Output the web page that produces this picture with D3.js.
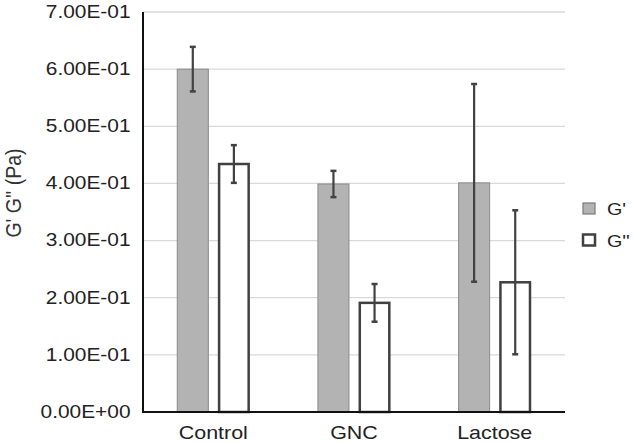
<!DOCTYPE html>
<html><head><meta charset="utf-8">
<script src="https://cdn.jsdelivr.net/npm/d3@7"></script>
<style>body{margin:0;background:#fff}svg{display:block}text{font-family:"Liberation Sans",Arial,sans-serif}</style>
</head><body>
<svg id="c" width="633" height="443"></svg>
<script>
const categories = ["Control", "GNC", "Lactose"];
const series = ["G'", "G''"];
const gPrime = [0.600, 0.399, 0.401];
const gPrimeErr = [0.039, 0.023, 0.173];
const gDouble = [0.434, 0.191, 0.227];
const gDoubleErr = [0.033, 0.033, 0.126];
const yTicks = [0, 0.1, 0.2, 0.3, 0.4, 0.5, 0.6, 0.7];

(function () {
const svg = d3.select("#c");
const pL = 143, pR = 565, pT = 12, pB = 412;
const SX = 1.16;
const x = d3.scaleBand().domain(categories).range([pL, pR]).paddingInner(0.48).paddingOuter(0.24);
const xs = d3.scaleBand().domain(series).range([0, x.bandwidth()]).paddingInner(0.22);
const y = d3.scaleLinear().domain([0, 0.7]).range([pB, pT]);

// gridlines
svg.append("g").selectAll("line").data(yTicks.filter(d => d > 0)).join("line")
  .attr("x1", pL).attr("x2", pR).attr("y1", d => y(d)).attr("y2", d => y(d))
  .attr("stroke", "#d9d9d9").attr("stroke-width", 1.3);

// y axis
const yAxis = svg.append("g").attr("transform", `translate(${pL},0)`)
  .call(d3.axisLeft(y).tickValues(yTicks).tickSize(0).tickPadding(13)
    .tickFormat(d => d === 0 ? "0.00E+00" : d3.format(".2f")(d * 10) + "E-01"));
yAxis.select(".domain").remove();
yAxis.selectAll("text").attr("font-size", 18).attr("fill", "#222")
  .attr("font-family", '"Liberation Sans",Arial,sans-serif')
  .attr("x", 0).attr("dy", "0.3em").attr("transform", `translate(-12.5,0) scale(${SX},1)`);

const data = [];
categories.forEach((c, i) => {
  data.push({c, s: "G'", v: gPrime[i], e: gPrimeErr[i]});
  data.push({c, s: "G''", v: gDouble[i], e: gDoubleErr[i]});
});

svg.append("g").selectAll("rect").data(data).join("rect")
  .attr("x", d => x(d.c) + xs(d.s) + (d.s === "G'" ? 0.5 : 1.25))
  .attr("width", d => xs.bandwidth() - (d.s === "G'" ? 1 : 2.5))
  .attr("y", d => y(d.v))
  .attr("height", d => y(0) - y(d.v))
  .attr("fill", d => d.s === "G'" ? "#b3b3b3" : "#fff")
  .attr("stroke", d => d.s === "G'" ? "#8a8a8a" : "#404040")
  .attr("stroke-width", d => d.s === "G'" ? 1 : 2.5);

// error bars
const eb = svg.append("g").attr("stroke", "#424242").attr("stroke-width", 2.2);
data.forEach(d => {
  const cx = x(d.c) + xs(d.s) + xs.bandwidth() / 2;
  eb.append("line").attr("x1", cx).attr("x2", cx).attr("y1", y(d.v + d.e)).attr("y2", y(d.v - d.e));
  [d.v + d.e, d.v - d.e].forEach(v => eb.append("line").attr("x1", cx - 3).attr("x2", cx + 3).attr("y1", y(v)).attr("y2", y(v)).attr("stroke-width", 2.5));
});

// axes lines
svg.append("line").attr("x1", pL).attr("x2", pL).attr("y1", pT).attr("y2", pB + 1).attr("stroke", "#111").attr("stroke-width", 2);
svg.append("line").attr("x1", pL - 1).attr("x2", pR).attr("y1", pB).attr("y2", pB).attr("stroke", "#111").attr("stroke-width", 2);

// x labels
svg.append("g").selectAll("text").data(categories).join("text")
  .attr("transform", d => `translate(${x(d) + x.bandwidth() / 2},439) scale(${SX},1)`)
  .attr("text-anchor", "middle").attr("font-size", 18.5).attr("fill", "#222").text(d => d);

// y title
svg.append("text").attr("transform", `translate(21,193) rotate(-90) scale(1,${SX})`)
  .attr("text-anchor", "middle").attr("font-size", 19.5).attr("fill", "#333").text("G' G'' (Pa)");

// legend
const lg = svg.append("g").selectAll("g").data(series).join("g")
  .attr("transform", (d, i) => `translate(583,${203 + i * 31.5})`);
lg.append("rect").attr("width", 12).attr("height", 11)
  .attr("fill", d => d === "G'" ? "#b3b3b3" : "#fff")
  .attr("stroke", d => d === "G'" ? "#7a7a7a" : "#404040")
  .attr("stroke-width", d => d === "G'" ? 1.2 : 2.5);
lg.append("text").attr("transform", `translate(24,12) scale(${SX},1)`)
  .attr("font-size", 17).attr("fill", "#222").text(d => d);
})();
</script>
</body></html>
